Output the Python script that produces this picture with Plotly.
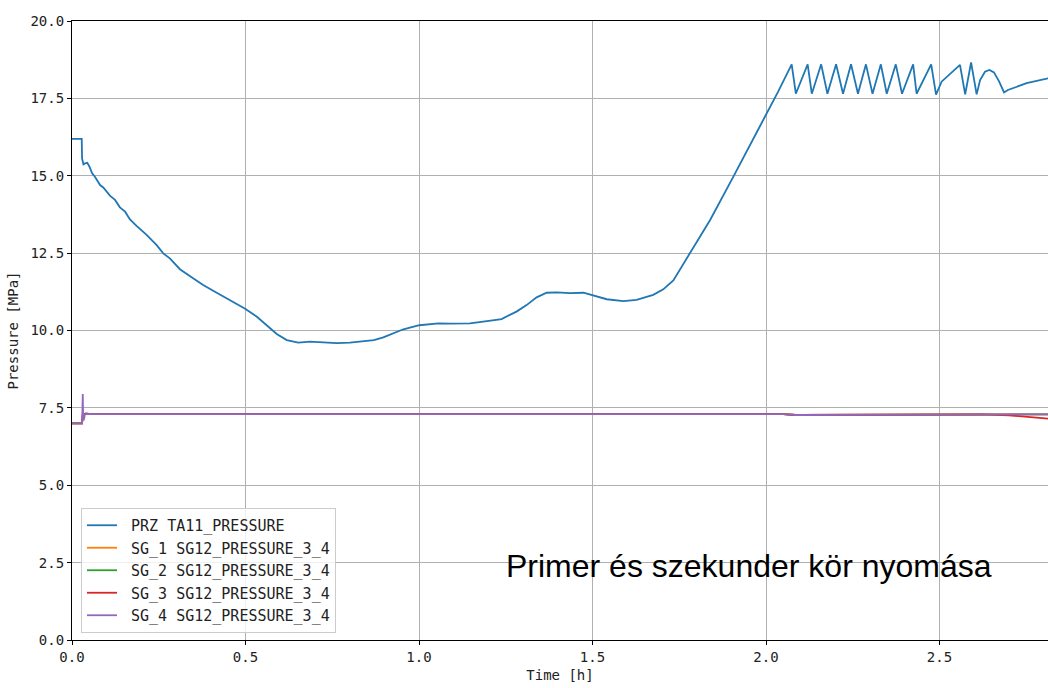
import plotly.graph_objects as go

# ---- data ----
prz_t = [0.0, 0.028, 0.029, 0.033, 0.038, 0.044, 0.050, 0.058, 0.066, 0.081, 0.090,
         0.110, 0.124, 0.138, 0.153, 0.167, 0.186, 0.215, 0.244, 0.263, 0.282, 0.311,
         0.350, 0.378, 0.417, 0.455, 0.499, 0.532, 0.561, 0.590, 0.619, 0.652, 0.686,
         0.734, 0.763, 0.801, 0.849, 0.870, 0.897, 0.955, 1.001, 1.056, 1.089, 1.147,
         1.185, 1.238, 1.281, 1.310, 1.339, 1.368, 1.397, 1.435, 1.474, 1.500, 1.541,
         1.589, 1.627, 1.675, 1.704, 1.733, 1.781, 1.839, 1.906, 1.954, 1.999, 2.035,
         2.074, 2.086, 2.120, 2.132, 2.159, 2.177, 2.202, 2.222, 2.245, 2.265, 2.288,
         2.307, 2.331, 2.348, 2.374, 2.392, 2.424, 2.434, 2.476, 2.490, 2.506, 2.559,
         2.574, 2.591, 2.607, 2.617, 2.631, 2.644, 2.657, 2.672, 2.686, 2.697, 2.751,
         2.813]
prz_p = [16.19, 16.19, 15.56, 15.37, 15.40, 15.42, 15.30, 15.08, 14.97, 14.70, 14.62,
         14.35, 14.22, 13.98, 13.84, 13.59, 13.38, 13.09, 12.76, 12.49, 12.33, 11.98,
         11.68, 11.47, 11.22, 10.99, 10.70, 10.45, 10.18, 9.89, 9.69, 9.61, 9.64,
         9.62, 9.59, 9.61, 9.65, 9.69, 9.78, 10.04, 10.17, 10.23, 10.22, 10.23,
         10.29, 10.37, 10.61, 10.82, 11.07, 11.22, 11.23, 11.21, 11.22, 11.13, 11.01,
         10.95, 10.99, 11.15, 11.33, 11.62, 12.49, 13.57, 14.97, 15.99, 16.91, 17.72,
         18.60, 17.65, 18.60, 17.65, 18.60, 17.65, 18.60, 17.65, 18.60, 17.65, 18.60,
         17.65, 18.60, 17.65, 18.60, 17.65, 18.60, 17.65, 18.60, 17.62, 18.04, 18.58,
         17.63, 18.66, 17.63, 18.09, 18.36, 18.42, 18.34, 18.04, 17.69, 17.77, 17.99,
         18.15]

sg_t = [0.0, 0.029, 0.031, 0.034, 0.040, 0.060, 0.50, 1.00, 1.50, 2.05,
        2.086, 2.132, 2.177, 2.222, 2.265, 2.307, 2.348, 2.392, 2.434, 2.490,
        2.55, 2.62, 2.70, 2.813]
sg1_p = [7.00, 7.00, 7.28, 7.30, 7.31, 7.30, 7.30, 7.30, 7.30, 7.30,
         7.27, 7.27, 7.27, 7.27, 7.27, 7.27, 7.27, 7.27, 7.27, 7.28,
         7.29, 7.29, 7.29, 7.29]
sg2_p = [7.00, 7.00, 7.28, 7.30, 7.31, 7.30, 7.30, 7.30, 7.30, 7.30,
         7.27, 7.27, 7.27, 7.27, 7.27, 7.27, 7.27, 7.27, 7.27, 7.28,
         7.29, 7.29, 7.29, 7.29]
sg3_p = [7.00, 7.00, 7.28, 7.30, 7.31, 7.30, 7.30, 7.30, 7.30, 7.30,
         7.27, 7.27, 7.27, 7.27, 7.27, 7.27, 7.27, 7.27, 7.27, 7.28,
         7.29, 7.29, 7.26, 7.15]
sg4_t = [0.0, 0.029, 0.030, 0.031, 0.032, 0.034, 0.037, 0.040, 0.060, 0.50, 1.00,
         1.50, 2.05, 2.086, 2.132, 2.177, 2.222, 2.265, 2.307, 2.348, 2.392,
         2.434, 2.490, 2.55, 2.62, 2.70, 2.813]
sg4_p = [7.00, 7.00, 7.40, 7.95, 7.30, 7.10, 7.28, 7.31, 7.30, 7.30, 7.30,
         7.30, 7.30, 7.27, 7.27, 7.27, 7.27, 7.27, 7.27, 7.27, 7.27,
         7.27, 7.28, 7.29, 7.29, 7.29, 7.29]

names = ["PRZ TA11_PRESSURE", "SG_1 SG12_PRESSURE_3_4", "SG_2 SG12_PRESSURE_3_4",
         "SG_3 SG12_PRESSURE_3_4", "SG_4 SG12_PRESSURE_3_4"]
colors = ["#1f77b4", "#ff7f0e", "#2ca02c", "#d62728", "#9467bd"]

x_ticks = [0.0, 0.5, 1.0, 1.5, 2.0, 2.5]
y_ticks = [0.0, 2.5, 5.0, 7.5, 10.0, 12.5, 15.0, 17.5, 20.0]
annotation_text = "Primer és szekunder kör nyomása"

MONO = "DejaVu Sans Mono"

fig = go.Figure()
series = [(prz_t, prz_p), (sg_t, sg1_p), (sg_t, sg2_p), (sg_t, sg3_p), (sg4_t, sg4_p)]
for (tx, py), nm, c in zip(series, names, colors):
    fig.add_trace(go.Scatter(x=tx, y=py, mode="lines", name="\u00a0" + nm,
                             line=dict(color=c, width=1.8)))

fig.add_annotation(x=(504 - 72) / 976, y=(640 - 566) / 619, xref="paper", yref="paper",
                   text=annotation_text, showarrow=False, xanchor="left", yanchor="middle",
                   font=dict(family="Liberation Sans, Arial", size=32, color="#000"))

fig.update_layout(
    width=1048, height=688,
    margin=dict(l=72, r=0, t=21, b=48),
    paper_bgcolor="white", plot_bgcolor="white",
    font=dict(family=MONO, size=14, color="#222"),
    showlegend=True,
    legend=dict(x=(81 - 72) / 976, y=(640 - 633) / 619, xanchor="left", yanchor="bottom",
                bgcolor="rgba(255,255,255,0.8)", bordercolor="#cccccc", borderwidth=1,
                font=dict(family=MONO, size=15, color="#222"),
                traceorder="normal"),
    xaxis=dict(range=[0, 976 / 347], tickvals=x_ticks, ticktext=[f"{v:.1f}" for v in x_ticks],
               showgrid=True, gridcolor="#b0b0b0", gridwidth=1,
               showline=True, linecolor="#000", linewidth=1.2, mirror=True,
               ticks="outside", ticklen=4, tickcolor="#000", zeroline=False,
               title=dict(text="Time [h]", font=dict(family=MONO, size=14), standoff=6)),
    yaxis=dict(range=[0, 20], tickvals=y_ticks, ticktext=[f"{v:.1f}" for v in y_ticks],
               showgrid=True, gridcolor="#b0b0b0", gridwidth=1,
               showline=True, linecolor="#000", linewidth=1.2,
               ticks="outside", ticklen=4, tickcolor="#000", zeroline=False,
               title=dict(text="Pressure [MPa]", font=dict(family=MONO, size=14), standoff=8)),
)

fig.write_html("out.html")
